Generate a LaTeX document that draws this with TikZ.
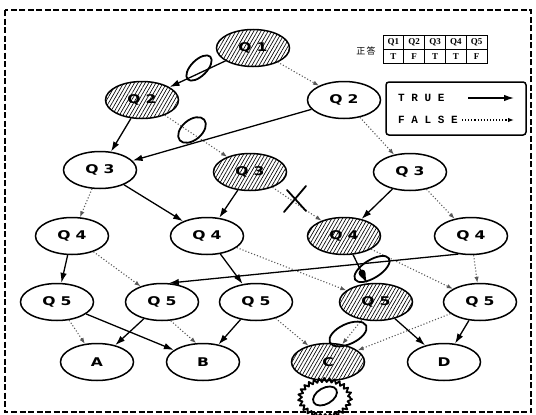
\documentclass[tikz,border=0pt]{standalone}
\usepackage{fontspec}
\setmainfont{Liberation Serif}
\newfontfamily\qfont[FakeStretch=1.3]{DejaVu Sans}
\newfontfamily\legfont{Liberation Mono}
\newfontfamily\cjk{Noto Sans CJK JP}
\usetikzlibrary{shapes.geometric,arrows.meta,patterns.meta,decorations.pathmorphing}
\newcommand\qlab[1]{Q\hspace{5pt}#1}
\begin{document}
\begin{tikzpicture}[x=1pt,y=-1pt,
  q/.style={ellipse,draw,line width=1.5pt,minimum width=73pt,minimum height=37pt,inner sep=0pt,
    font=\qfont\bfseries\fontsize{12}{12}\selectfont},
  h/.style={q,pattern={Lines[angle=60,distance=3.1pt,line width=0.65pt]}},
  tr/.style={-{Latex[length=10pt,width=6.5pt]},line width=1.3pt},
  fa/.style={-{Latex[length=6pt,width=4.5pt]},dotted,line width=1.1pt,black!65},
  mk/.style={line width=1.8pt,line cap=round,line join=round},
  cell/.style={inner sep=0pt,font=\fontsize{9}{9}\selectfont\bfseries},
]
\useasboundingbox (0,0) rectangle (536,415);
\draw[line width=1.3pt,dash pattern=on 6pt off 2.5pt] (5,10) rectangle (531,412);

% nodes
\node[h] (q1) at (253,48) {\qlab{1}};
\node[h] (q2a) at (142,100) {\qlab{2}};
\node[q] (q2b) at (344,100) {\qlab{2}};
\node[q] (q3a) at (100,170) {\qlab{3}};
\node[h] (q3b) at (250,172) {\qlab{3}};
\node[q] (q3c) at (410,172) {\qlab{3}};
\node[q] (q4a) at (72,236) {\qlab{4}};
\node[q] (q4b) at (207,236) {\qlab{4}};
\node[h] (q4c) at (344,236) {\qlab{4}};
\node[q] (q4d) at (471,236) {\qlab{4}};
\node[q] (q5a) at (57,302) {\qlab{5}};
\node[q] (q5b) at (162,302) {\qlab{5}};
\node[q] (q5c) at (256,302) {\qlab{5}};
\node[h] (q5d) at (376,302) {\qlab{5}};
\node[q] (q5e) at (480,302) {\qlab{5}};
\node[q] (A) at (97,362) {A};
\node[q] (B) at (203,362) {B};
\node[h] (C) at (328,362) {C};
\node[q] (D) at (444,362) {D};

% edges
\draw[tr] (q1) -- (q2a);
\draw[fa] (q1) -- (q2b);
\draw[tr] (q2a) -- (q3a);
\draw[fa] (q2a) -- (q3b);
\draw[tr] (q2b) -- (q3a);
\draw[fa] (q2b) -- (q3c);
\draw[fa] (q3a) -- (q4a);
\draw[tr] (q3a) -- (q4b);
\draw[tr] (q3b) -- (q4b);
\draw[fa] (q3b) -- (q4c);
\draw[tr] (q3c) -- (q4c);
\draw[fa] (q3c) -- (q4d);
\draw[tr] (q4a) -- (q5a);
\draw[fa] (q4a) -- (q5b);
\draw[tr] (q4b) -- (q5c);
\draw[fa] (q4b) -- (q5d);
\draw[tr] (q4c) -- (q5d);
\draw[fa] (q4c) -- (q5e);
\draw[tr] (q4d.235) -- (q5b.70);
\draw[fa] (q4d) -- (q5e);
\draw[fa] (q5a) -- (A);
\draw[tr] (q5a) -- (B);
\draw[tr] (q5b) -- (A);
\draw[fa] (q5b.-65) -- (B.110);
\draw[tr] (q5c) -- (B);
\draw[fa] (q5c) -- (C);
\draw[fa] (q5d) -- (C);
\draw[tr] (q5d) -- (D);
\draw[fa] (q5e) -- (C);
\draw[tr] (q5e) -- (D);

% hand marks
\draw[mk,rotate around={45:(199,68)}] (199,68) ellipse [x radius=16, y radius=8];
\draw[mk,rotate around={40:(192,130)}] (192,130) ellipse [x radius=16, y radius=10];
\draw[mk,rotate around={32:(372,269)}] (372,269) ellipse [x radius=20, y radius=9];
\fill (362,273) circle [radius=3.5];
\draw[mk,rotate around={25:(348,334)}] (348,334) ellipse [x radius=20, y radius=10];
\draw[mk] (306,186) -- (284,212);
\draw[mk] (287,190) -- (306,211);
\draw[mk,decorate,decoration={zigzag,segment length=5pt,amplitude=2pt}] (325,398) ellipse [x radius=25, y radius=18];
\draw[mk,rotate around={30:(325,396)}] (325,396) ellipse [x radius=13, y radius=8];

% answer table
\node[font=\cjk\fontsize{9}{9}\selectfont] (ans) at (366,51) {正\,答};
\draw[line width=0.9pt] (383,35) rectangle (487,63);
\draw[line width=0.9pt] (383,49) -- (487,49);
\foreach \i in {1,...,4} \draw[line width=0.9pt] (383+20.8*\i,35) -- (383+20.8*\i,63);
\foreach \i/\a/\b in {1/Q1/T,2/Q2/F,3/Q3/T,4/Q4/T,5/Q5/F} {
  \node[cell] (h\i) at (383+20.8*\i-10.4,42) {\a};
  \node[cell] (v\i) at (383+20.8*\i-10.4,56.5) {\b};
}

% legend
\node[draw,line width=1.5pt,rounded corners=3pt,minimum width=140pt,minimum height=53pt] (leg) at (456,108.5) {};
\node[anchor=west,inner sep=0pt,font=\legfont\bfseries\fontsize{11}{11}\selectfont] (tt) at (398,98) {T R U E};
\node[anchor=west,inner sep=0pt,font=\legfont\bfseries\fontsize{11}{11}\selectfont] (ff) at (398,120) {F A L S E};
\coordinate (t1) at (468,98);
\coordinate (t2) at (514,98);
\coordinate (f1) at (462,120);
\coordinate (f2) at (514,120);
\draw[tr] (t1) -- (t2);
\draw[fa,black] (f1) -- (f2);
\end{tikzpicture}
\end{document}
